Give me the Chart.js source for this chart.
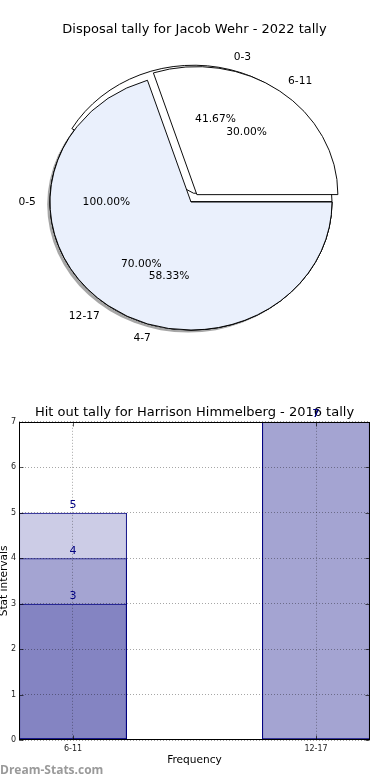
<!DOCTYPE html>
<html>
<head>
<meta charset="utf-8">
<script src="https://cdn.jsdelivr.net/npm/chart.js@4/dist/chart.umd.min.js"></script>
<style>
html,body{margin:0;padding:0;background:#fff;width:390px;height:780px;overflow:hidden;}
.wrap{position:relative;width:390px;height:780px;}
canvas{position:absolute;left:0;}
#wm{position:absolute;left:0;top:761px;font:bold 12px "Open Sans","DejaVu Sans",sans-serif;color:#9a9a9a;white-space:nowrap;}
</style>
</head>
<body>
<div class="wrap">
  <canvas id="pieA" width="390" height="380" style="top:0"></canvas>
  <canvas id="pieC" width="390" height="380" style="top:0"></canvas>
  <canvas id="pieB" width="390" height="380" style="top:0"></canvas>
  <canvas id="bar" width="390" height="390" style="top:390px"></canvas>
  <div id="wm">Dream-Stats.com</div>
</div>
<script>
// ---------- data ----------
const PIE_TITLE = 'Disposal tally for Jacob Wehr - 2022 tally';
const pieALabels = ['0-5'];
const pieAValues = [100];
const pieBLabels = ['6-11', '12-17'];
const pieBValues = [30, 70];
const pieCLabels = ['0-3', '4-7'];
const pieCValues = [41.67, 58.33];

const BAR_TITLE = 'Hit out tally for Harrison Himmelberg - 2016 tally';
const barCategories = ['6-11', '12-17'];
const barSeries1 = [5, 7];
const barSeries2 = [4, 7];
const barSeries3 = [3, null];
const yTickMin = 0, yTickMax = 7, yTickStep = 1;
const xAxisMin = -0.2222, xAxisMax = 1.2222;

// ---------- styles ----------
Chart.defaults.font.family = '"DejaVu Sans", sans-serif';
const PIE_BLUE = '#eaf0fc';
const ELLIPSE_K = 128 / 141;
const PIE_RADIUS = 141;
const PIE_SHIFT_X = -3.5;
const EXPLODE = 40;           // Chart.js arc offset (shift = offset/4)
const BAR_FILL = 'rgba(0,0,128,0.2)';
const NAVY = '#000080';

const pieCharts = [];

const ellipsePlugin = {
  id: 'ellipse',
  afterDatasetsUpdate(chart) {
    // keep exploded wedges at the same radius (Chart.js enlarges them)
    chart.getDatasetMeta(0).data.forEach(arc => {
      const off = (arc.options.offset || 0) / 4;
      if (off) {
        const fix = 1 - Math.sin(Math.min(Math.PI, arc.circumference || 0));
        arc.outerRadius -= off * fix;
      }
    });
  },
  beforeDatasetsDraw(chart, args, opts) {
    const arc = chart.getDatasetMeta(0).data[0];
    const R = chart.getDatasetMeta(0).controller.outerRadius;
    const ctx = chart.ctx;
    ctx.save();
    ctx.translate(PIE_SHIFT_X, 0);
    ctx.translate(arc.x, arc.y);
    ctx.scale(1, ELLIPSE_K);
    ctx.translate(-arc.x, -arc.y);
    if (opts && opts.shadow) {
      ctx.save();
      ctx.fillStyle = 'rgba(77,77,77,0.5)';
      ctx.beginPath();
      ctx.arc(arc.x - 2.8, arc.y + 2.6 / ELLIPSE_K, R, 0, Math.PI * 2);
      ctx.fill();
      ctx.restore();
    }
  },
  afterDatasetsDraw(chart) {
    chart.ctx.restore();
  }
};

function drawPieLabels(ctx, src) {
  const meta = src.getDatasetMeta(0);
  const R = meta.controller.outerRadius;
  const ds = src.data.datasets[0];
  const total = ds.data.reduce((a, b) => a + b, 0);
  ctx.save();
  ctx.fillStyle = '#000';
  ctx.font = '10.7px "DejaVu Sans"';
  ctx.textBaseline = 'middle';
  meta.data.forEach((arc, i) => {
    const p = arc.getProps(['x', 'y', 'startAngle', 'endAngle'], true);
    const mid = (p.startAngle + p.endAngle) / 2;
    const shift = (arc.options.offset || 0) / 4;
    const c = Math.cos(mid), s = Math.sin(mid);
    const place = (d) => [p.x + PIE_SHIFT_X + (d * R + shift) * c,
                          p.y + (d * R + shift) * s * ELLIPSE_K];
    const [lx, ly] = place(1.1);
    ctx.textAlign = c > 1e-6 ? 'left' : (c < -1e-6 ? 'right' : 'center');
    ctx.fillText(src.data.labels[i], lx, ly);
    const [px, py] = place(0.6);
    ctx.textAlign = 'center';
    ctx.fillText((ds.data[i] / total * 100).toFixed(2) + '%', px, py);
  });
  ctx.restore();
}

const labelPlugin = {
  id: 'pieLabels',
  afterDraw(chart) {
    [...pieCharts, chart].forEach(src => drawPieLabels(chart.ctx, src));
  }
};

function pieConfig(labels, values, explodeFirst, showTitle, shadow, extraPlugins) {
  // matplotlib draws counter-clockwise from east; Chart.js clockwise -> reverse
  const lab = labels.slice().reverse();
  const val = values.slice().reverse();
  const offsets = values.map((v, i) => (i === 0 && explodeFirst) ? EXPLODE : 0).reverse();
  const colors = values.map((v, i) => i === 0 ? '#ffffff' : PIE_BLUE).reverse();
  return {
    type: 'pie',
    data: {
      labels: lab,
      datasets: [{
        data: val,
        backgroundColor: colors,
        borderColor: '#000',
        borderWidth: 1,
        offset: offsets,
        hoverOffset: 0,
        clip: false
      }]
    },
    options: {
      responsive: false,
      animation: false,
      devicePixelRatio: 1,
      rotation: 90,
      radius: PIE_RADIUS,
      events: [],
      layout: { padding: { left: 0, right: 1, top: 0, bottom: 23.6 } },
      plugins: {
        legend: { display: false },
        tooltip: { enabled: false },
        ellipse: { shadow: shadow },
        title: {
          display: true,
          text: PIE_TITLE,
          color: showTitle ? '#000' : 'rgba(0,0,0,0)',
          font: { size: 13, weight: 'normal' },
          padding: { top: 22, bottom: 10 }
        }
      }
    },
    plugins: [ellipsePlugin].concat(extraPlugins || [])
  };
}

pieCharts.push(new Chart(document.getElementById('pieA'), pieConfig(pieALabels, pieAValues, false, false, true)));
pieCharts.push(new Chart(document.getElementById('pieC'), pieConfig(pieCLabels, pieCValues, true, false, false)));
new Chart(document.getElementById('pieB'), pieConfig(pieBLabels, pieBValues, true, true, false, [labelPlugin]));

// ---------- bar chart ----------
const toPoints = arr => arr.map((v, i) => v == null ? null : { x: i, y: v }).filter(Boolean);

const barLabelPlugin = {
  id: 'barLabels',
  afterDraw(chart) {
    const ctx = chart.ctx;
    ctx.save();
    ctx.fillStyle = NAVY;
    ctx.font = '11px "DejaVu Sans"';
    ctx.textAlign = 'center';
    ctx.textBaseline = 'bottom';
    chart.data.datasets.forEach((ds, di) => {
      const meta = chart.getDatasetMeta(di);
      meta.data.forEach((bar, i) => {
        ctx.fillText(String(ds.data[i].y), bar.x, bar.y - 2);
      });
    });
    ctx.restore();
  }
};

const framePlugin = {
  id: 'frame',
  afterDraw(chart) {
    const ctx = chart.ctx;
    const { left, right, top, bottom } = chart.chartArea;
    const L = Math.round(left) + 0.5, R = Math.round(right) - 0.5;
    const T = Math.round(top) + 0.5, B = Math.round(bottom) - 0.5;
    ctx.save();
    ctx.strokeStyle = 'rgba(0,0,0,0.65)';
    ctx.lineWidth = 1;
    ctx.beginPath();
    chart.scales.y.ticks.forEach(t => {
      const yy = Math.round(chart.scales.y.getPixelForValue(t.value)) + 0.5;
      ctx.moveTo(L, yy); ctx.lineTo(L + 4, yy);
      ctx.moveTo(R, yy); ctx.lineTo(R - 4, yy);
    });
    chart.scales.x.ticks.forEach(t => {
      const xx = Math.round(chart.scales.x.getPixelForValue(t.value)) + 0.5;
      ctx.moveTo(xx, B); ctx.lineTo(xx, B - 4);
      ctx.moveTo(xx, T); ctx.lineTo(xx, T + 4);
    });
    ctx.stroke();
    ctx.strokeStyle = '#000';
    ctx.strokeRect(L, T, R - L, B - T);
    ctx.restore();
  }
};

const barDataset = (arr) => ({
  data: toPoints(arr),
  backgroundColor: BAR_FILL,
  borderColor: NAVY,
  borderWidth: 1,
  borderSkipped: false,
  grouped: false,
  categoryPercentage: 1,
  barPercentage: 0.444
});

new Chart(document.getElementById('bar'), {
  type: 'bar',
  data: {
    datasets: [barDataset(barSeries1), barDataset(barSeries2), barDataset(barSeries3)]
  },
  options: {
    responsive: false,
    animation: false,
    devicePixelRatio: 1,
    events: [],
    layout: { padding: { left: 0, right: 20, top: 0, bottom: 0 } },
    plugins: {
      legend: { display: false },
      tooltip: { enabled: false },
      title: {
        display: true,
        fullSize: false,
        text: BAR_TITLE,
        color: '#000',
        font: { size: 13, weight: 'normal' },
        padding: { top: 15, bottom: 1.2 }
      }
    },
    scales: {
      x: {
        type: 'linear',
        min: xAxisMin,
        max: xAxisMax,
        offset: false,
        afterBuildTicks: (scale) => { scale.ticks = barCategories.map((c, i) => ({ value: i })); },
        afterFit: (scale) => { scale.height = 40; },
        ticks: {
          autoSkip: false, maxRotation: 0, padding: 4,
          color: '#222', font: { size: 8 },
          callback: (v) => barCategories[Math.round(v)] ?? ''
        },
        grid: { offset: false, color: 'rgba(0,0,0,0.35)', lineWidth: 1, drawTicks: false, z: 1, borderDash: [1, 2] },
        border: { display: false, dash: [1, 2] },
        title: { display: true, text: 'Frequency', color: '#000', font: { size: 10.6 }, padding: { top: 0, bottom: 13.6 } }
      },
      y: {
        min: yTickMin,
        max: yTickMax,
        afterFit: (scale) => { scale.width = 19; },
        ticks: { stepSize: yTickStep, padding: 3, color: '#222', font: { size: 8 } },
        grid: { color: 'rgba(0,0,0,0.35)', lineWidth: 1, drawTicks: false, z: 1, borderDash: [1, 2] },
        border: { display: false, dash: [1, 2] },
        title: { display: true, text: 'Stat intervals', color: '#000', font: { size: 10.6 }, padding: { top: -2, bottom: 0 } }
      }
    }
  },
  plugins: [barLabelPlugin, framePlugin]
});
</script>
</body>
</html>
